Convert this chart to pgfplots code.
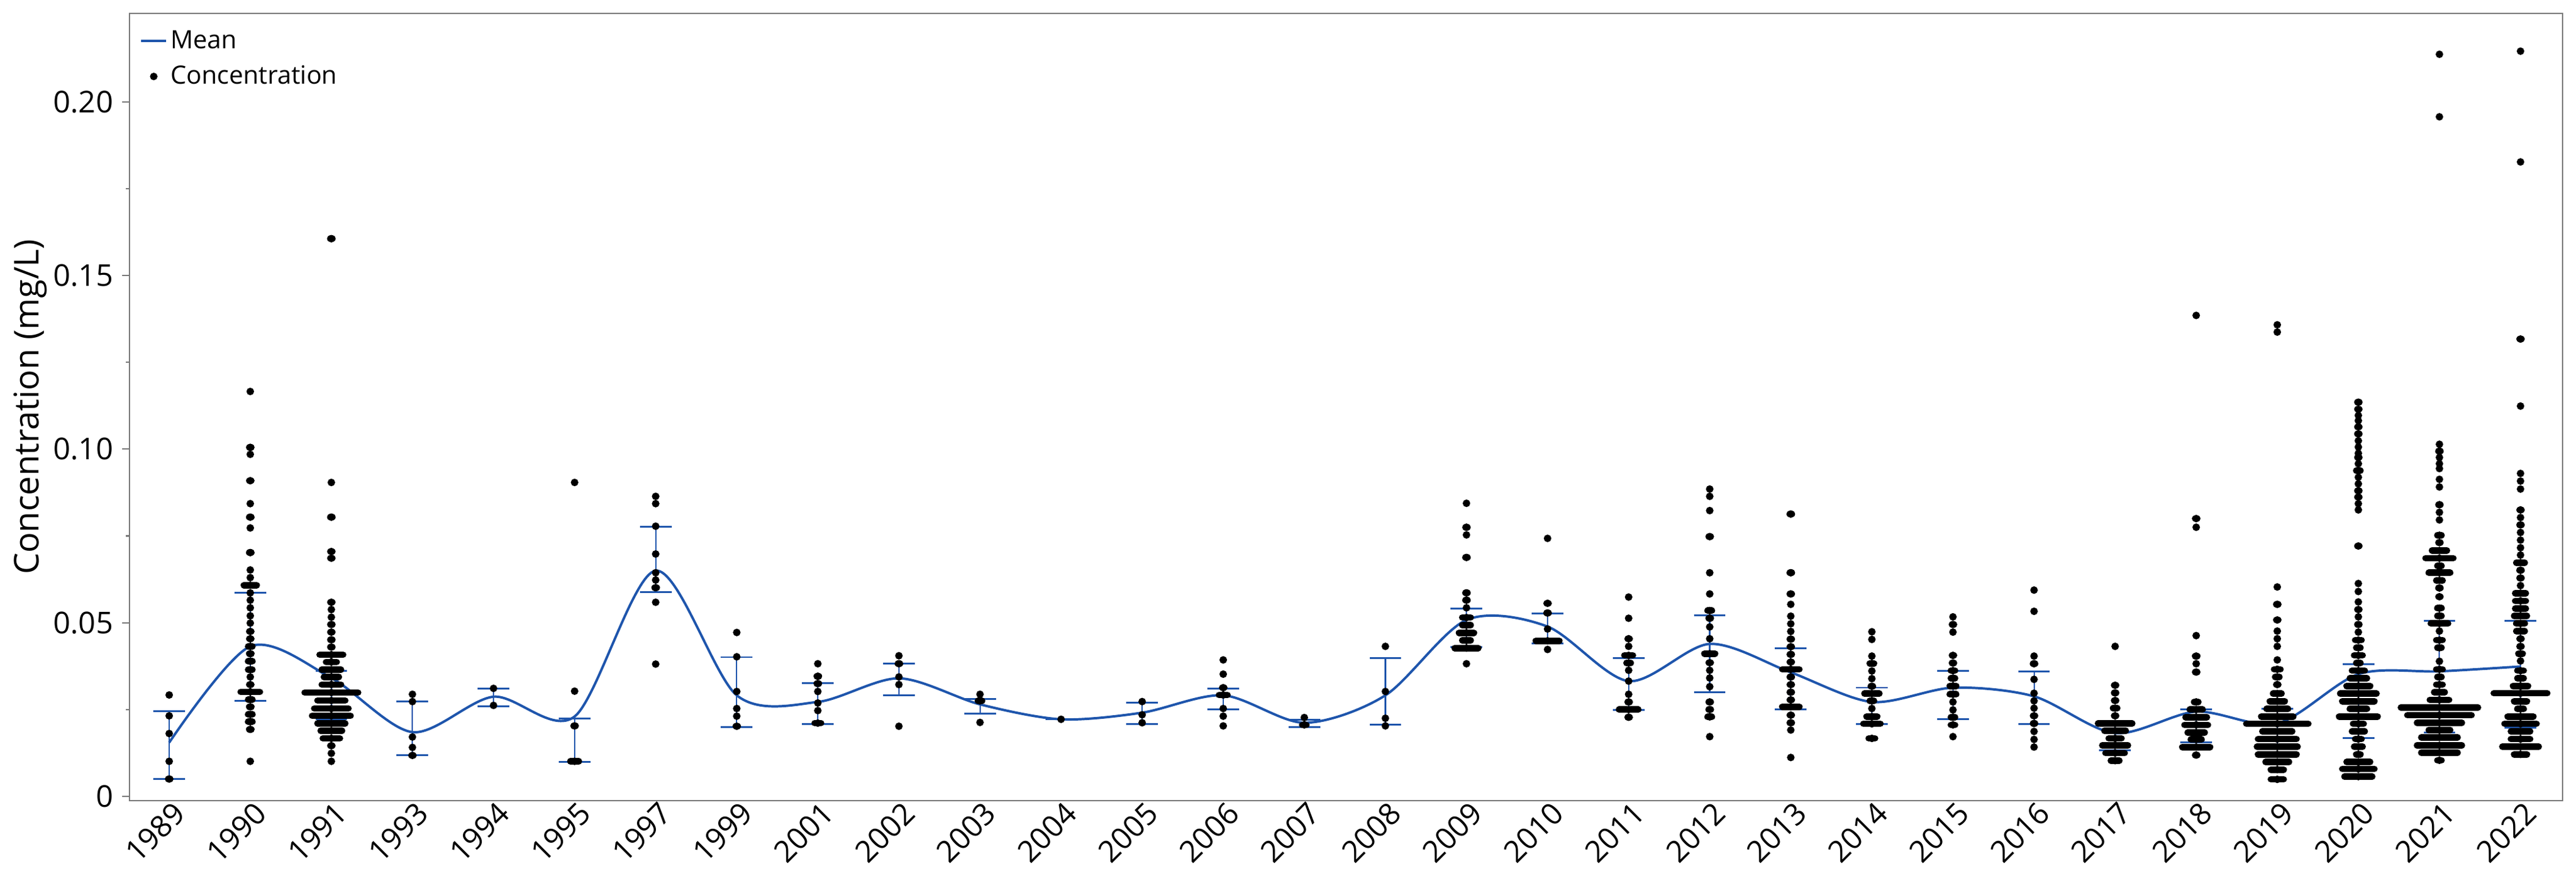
\documentclass[border=0pt]{standalone}
\usepackage{pgfplots}
\usepackage{pgfplotstable}
\pgfplotsset{compat=1.18}
\usepackage{fontspec}
\setmainfont{Open Sans}

\definecolor{jmpblue}{RGB}{30,85,172}
\definecolor{framegray}{RGB}{120,120,120}

% summary per year: c = category index, lo/hi = bar ends, m = mean
\pgfplotstableread{
c lo hi m
0 0.0050 0.0245 0.0155
1 0.0276 0.0586 0.0432
2 0.0222 0.0361 0.0341
3 0.0118 0.0273 0.0185
4 0.0260 0.0310 0.0287
5 0.0100 0.0225 0.0230
6 0.0589 0.0777 0.0650
7 0.0200 0.0401 0.0291
8 0.0209 0.0326 0.0272
9 0.0291 0.0383 0.0340
10 0.0239 0.0280 0.0265
11 0.0222 0.0222 0.0222
12 0.0209 0.0270 0.0241
13 0.0250 0.0310 0.0291
14 0.0200 0.0220 0.0212
15 0.0206 0.0398 0.0291
16 0.0430 0.0541 0.0508
17 0.0440 0.0526 0.0489
18 0.0249 0.0398 0.0332
19 0.0300 0.0521 0.0439
20 0.0250 0.0426 0.0357
21 0.0209 0.0313 0.0272
22 0.0223 0.0361 0.0313
23 0.0209 0.0360 0.0288
24 0.0132 0.0210 0.0182
25 0.0155 0.0250 0.0244
26 0.0143 0.0252 0.0210
27 0.0168 0.0381 0.0352
28 0.0184 0.0506 0.0360
29 0.0198 0.0506 0.0374
}\summary

% concentrations: c = category index, v = value, n = number of equal values (side by side)
\pgfplotstableread{
c v n
0 0.0292 1
0 0.0232 1
0 0.0181 1
0 0.0101 1
0 0.0050 2
1 0.1166 1
1 0.1005 2
1 0.0985 1
1 0.0909 2
1 0.0843 1
1 0.0804 2
1 0.0773 1
1 0.0702 2
1 0.0652 1
1 0.0630 1
1 0.0608 7
1 0.0586 1
1 0.0565 1
1 0.0543 1
1 0.0520 1
1 0.0499 1
1 0.0475 2
1 0.0454 2
1 0.0432 3
1 0.0411 2
1 0.0389 3
1 0.0365 3
1 0.0344 1
1 0.0322 2
1 0.0301 10
1 0.0279 3
1 0.0258 2
1 0.0236 3
1 0.0215 3
1 0.0193 2
1 0.0101 1
2 0.1606 2
2 0.0904 1
2 0.0804 2
2 0.0705 2
2 0.0686 2
2 0.0559 2
2 0.0538 1
2 0.0516 1
2 0.0495 2
2 0.0473 2
2 0.0451 2
2 0.0430 2
2 0.0408 12
2 0.0387 6
2 0.0365 10
2 0.0344 8
2 0.0322 10
2 0.0299 26
2 0.0276 14
2 0.0253 17
2 0.0232 19
2 0.0210 14
2 0.0189 11
2 0.0167 9
2 0.0146 2
2 0.0124 1
2 0.0101 1
3 0.0294 1
3 0.0273 1
3 0.0171 1
3 0.0141 1
3 0.0118 2
4 0.0311 1
4 0.0262 1
5 0.0904 1
5 0.0303 1
5 0.0203 2
5 0.0101 5
6 0.0864 1
6 0.0843 1
6 0.0778 1
6 0.0698 1
6 0.0644 1
6 0.0623 1
6 0.0601 2
6 0.0559 1
6 0.0381 1
7 0.0472 1
7 0.0402 1
7 0.0302 1
7 0.0253 1
7 0.0231 1
7 0.0202 2
8 0.0382 1
8 0.0346 2
8 0.0325 2
8 0.0302 1
8 0.0269 1
8 0.0247 1
8 0.0211 4
9 0.0405 1
9 0.0382 2
9 0.0344 1
9 0.0322 1
9 0.0202 1
10 0.0294 1
10 0.0275 3
10 0.0213 1
11 0.0222 1
12 0.0273 1
12 0.0235 1
12 0.0212 1
13 0.0393 1
13 0.0352 1
13 0.0313 2
13 0.0292 5
13 0.0253 1
13 0.0231 1
13 0.0203 1
14 0.0227 1
14 0.0206 3
15 0.0432 1
15 0.0302 1
15 0.0225 1
15 0.0203 1
16 0.0844 1
16 0.0775 2
16 0.0753 1
16 0.0688 2
16 0.0586 2
16 0.0565 2
16 0.0543 1
16 0.0515 5
16 0.0493 5
16 0.0471 8
16 0.0449 5
16 0.0427 12
16 0.0382 1
17 0.0743 1
17 0.0556 2
17 0.0528 2
17 0.0482 1
17 0.0448 12
17 0.0423 1
18 0.0574 1
18 0.0513 1
18 0.0454 2
18 0.0432 1
18 0.0406 5
18 0.0384 3
18 0.0363 1
18 0.0332 1
18 0.0294 1
18 0.0272 2
18 0.0250 10
18 0.0228 2
19 0.0885 1
19 0.0864 1
19 0.0823 1
19 0.0748 2
19 0.0644 1
19 0.0583 1
19 0.0535 3
19 0.0513 2
19 0.0488 1
19 0.0454 1
19 0.0411 6
19 0.0385 2
19 0.0363 1
19 0.0341 1
19 0.0316 1
19 0.0272 2
19 0.0250 2
19 0.0229 3
19 0.0172 1
20 0.0813 2
20 0.0644 2
20 0.0583 2
20 0.0553 1
20 0.0519 1
20 0.0497 1
20 0.0475 1
20 0.0453 2
20 0.0431 2
20 0.0409 2
20 0.0387 2
20 0.0366 9
20 0.0344 2
20 0.0322 2
20 0.0300 2
20 0.0278 2
20 0.0258 9
20 0.0234 2
20 0.0212 2
20 0.0191 1
20 0.0112 1
21 0.0474 1
21 0.0452 1
21 0.0404 1
21 0.0383 3
21 0.0361 1
21 0.0339 1
21 0.0317 2
21 0.0296 8
21 0.0275 3
21 0.0253 1
21 0.0230 6
21 0.0209 9
21 0.0167 4
22 0.0517 1
22 0.0495 2
22 0.0473 1
22 0.0406 2
22 0.0384 2
22 0.0362 3
22 0.0340 3
22 0.0318 4
22 0.0294 4
22 0.0272 1
22 0.0249 1
22 0.0228 3
22 0.0206 3
22 0.0172 1
23 0.0594 1
23 0.0533 1
23 0.0404 1
23 0.0382 2
23 0.0337 1
23 0.0297 1
23 0.0275 1
23 0.0254 1
23 0.0232 2
23 0.0210 2
23 0.0187 1
23 0.0164 1
23 0.0142 1
24 0.0432 1
24 0.0320 2
24 0.0298 2
24 0.0276 2
24 0.0254 3
24 0.0232 2
24 0.0210 17
24 0.0189 11
24 0.0167 7
24 0.0147 13
24 0.0125 10
24 0.0103 5
25 0.1385 1
25 0.0800 2
25 0.0775 1
25 0.0463 1
25 0.0404 2
25 0.0382 1
25 0.0358 2
25 0.0272 3
25 0.0250 7
25 0.0228 11
25 0.0206 12
25 0.0184 9
25 0.0164 6
25 0.0142 14
25 0.0119 2
26 0.1358 1
26 0.1337 1
26 0.0603 1
26 0.0553 2
26 0.0508 2
26 0.0476 1
26 0.0454 1
26 0.0432 1
26 0.0393 1
26 0.0366 4
26 0.0344 3
26 0.0322 2
26 0.0296 5
26 0.0274 8
26 0.0252 11
26 0.0230 16
26 0.0209 30
26 0.0187 15
26 0.0165 19
26 0.0143 20
26 0.0121 19
26 0.0099 12
26 0.0077 7
26 0.0049 7
27 0.1135 2
27 0.1115 2
27 0.1097 1
27 0.1082 1
27 0.1064 2
27 0.1044 2
27 0.1024 1
27 0.1006 1
27 0.0988 1
27 0.0976 2
27 0.0958 1
27 0.0938 3
27 0.0919 1
27 0.0900 1
27 0.0880 2
27 0.0862 2
27 0.0843 1
27 0.0825 1
27 0.0721 2
27 0.0613 1
27 0.0590 1
27 0.0560 1
27 0.0538 2
27 0.0517 1
27 0.0495 2
27 0.0473 1
27 0.0450 4
27 0.0428 3
27 0.0406 5
27 0.0384 3
27 0.0362 7
27 0.0340 9
27 0.0318 12
27 0.0296 18
27 0.0274 16
27 0.0252 9
27 0.0230 19
27 0.0209 6
27 0.0187 7
27 0.0165 4
27 0.0143 5
27 0.0121 3
27 0.0099 12
27 0.0079 16
27 0.0057 14
28 0.2137 1
28 0.1957 1
28 0.1014 1
28 0.0994 2
28 0.0976 1
28 0.0958 1
28 0.0944 1
28 0.0913 1
28 0.0891 1
28 0.0840 2
28 0.0818 1
28 0.0796 1
28 0.0752 3
28 0.0731 2
28 0.0708 8
28 0.0686 14
28 0.0664 3
28 0.0644 11
28 0.0622 4
28 0.0600 2
28 0.0575 2
28 0.0542 3
28 0.0520 3
28 0.0498 9
28 0.0476 1
28 0.0450 4
28 0.0428 3
28 0.0389 1
28 0.0366 4
28 0.0344 3
28 0.0322 4
28 0.0300 6
28 0.0278 10
28 0.0256 37
28 0.0234 31
28 0.0212 22
28 0.0191 11
28 0.0170 18
28 0.0147 22
28 0.0126 18
28 0.0104 3
29 0.2146 1
29 0.1827 1
29 0.1317 2
29 0.1124 1
29 0.0930 1
29 0.0908 1
29 0.0885 1
29 0.0825 2
29 0.0803 1
29 0.0782 2
29 0.0760 1
29 0.0738 1
29 0.0716 1
29 0.0695 1
29 0.0673 5
29 0.0651 2
29 0.0629 2
29 0.0607 1
29 0.0585 6
29 0.0563 6
29 0.0541 6
29 0.0520 7
29 0.0498 5
29 0.0476 5
29 0.0454 2
29 0.0432 2
29 0.0411 3
29 0.0390 1
29 0.0362 4
29 0.0340 4
29 0.0318 8
29 0.0297 26
29 0.0274 7
29 0.0252 4
29 0.0230 13
29 0.0209 16
29 0.0187 10
29 0.0165 10
29 0.0143 18
29 0.0121 7
}\conc

\begin{document}
\begin{tikzpicture}
\begin{axis}[
    scale only axis,
    width=956.2pt, height=309.4pt,
    xmin=-0.49, xmax=29.52,
    ymin=-0.00123, ymax=0.2255,
    axis line style={framegray, line width=0.6pt},
    xtick={0,...,29},
    xticklabels={1989,1990,1991,1993,1994,1995,1997,1999,2001,2002,2003,2004,2005,2006,2007,2008,2009,2010,2011,2012,2013,2014,2015,2016,2017,2018,2019,2020,2021,2022},
    xtick style={draw=none},
    xticklabel style={xshift=6.5pt, yshift=2.5pt, rotate=45, anchor=east, font=\fontsize{11.8}{14}\selectfont},
    ytick={0,0.05,0.1,0.15,0.2},
    yticklabels={0,0.05,0.10,0.15,0.20},
    minor ytick={0.025,0.075,0.125,0.175},
    ytick pos=left,
    tick align=outside,
    ytick style={framegray, line width=0.5pt},
    major tick length=2.9pt,
    minor tick length=1.4pt,
    yticklabel style={font=\fontsize{11.8}{14}\selectfont},
    ylabel={Concentration (mg/L)},
    ylabel style={font=\fontsize{13.4}{16}\selectfont, at={(axis description cs:-0.0407,0.5)}, anchor=center},
    legend style={at={(axis description cs:0.001,0.992)}, anchor=north west, draw=none, fill=none,
        font=\fontsize{9.9}{12}\selectfont, row sep=1.2pt, nodes={inner xsep=1.2pt}},
    legend cell align=left,
]
% error bars (vertical part)
\addplot[forget plot, draw=none, mark=none,
    error bars/.cd, y dir=plus, y explicit, error mark=none,
    error bar style={draw=jmpblue, line width=0.5pt}]
    table[x=c, y=lo, y error expr=\thisrow{hi}-\thisrow{lo}] {\summary};
% caps
\addplot[forget plot, draw=none, mark=none,
    error bars/.cd, x dir=both, x fixed=0.195, error mark=none,
    error bar style={draw=jmpblue, line width=0.7pt}]
    table[x=c, y=lo] {\summary};
\addplot[forget plot, draw=none, mark=none,
    error bars/.cd, x dir=both, x fixed=0.195, error mark=none,
    error bar style={draw=jmpblue, line width=0.7pt}]
    table[x=c, y=hi] {\summary};
% mean line
\addplot[forget plot, jmpblue, line width=0.95pt, smooth, tension=0.5]
    table[x=c, y=m] {\summary};
% concentrations, equal values side by side
\addplot[forget plot, only marks, mark=*, mark size=1.28pt, mark options={draw=none, fill=black},
    error bars/.cd, x dir=both, x explicit, error mark=none,
    error bar style={black, line width=2.56pt, line cap=round}]
    table[x=c, y=v, x error expr=(\thisrow{n}-1)*0.0132] {\conc};

\addlegendimage{legend image code/.code={\draw[jmpblue, line width=0.95pt] (0pt,0pt) -- (9.8pt,0pt);}}
\addlegendentry{Mean}
\addlegendimage{legend image code/.code={\fill[black] (4.9pt,0pt) circle (1.28pt);}}
\addlegendentry{Concentration}
\end{axis}
\pgfresetboundingbox
\path[use as bounding box] (-50.88pt,-34.32pt) rectangle (961.44pt,314.63pt);
\end{tikzpicture}
\end{document}
